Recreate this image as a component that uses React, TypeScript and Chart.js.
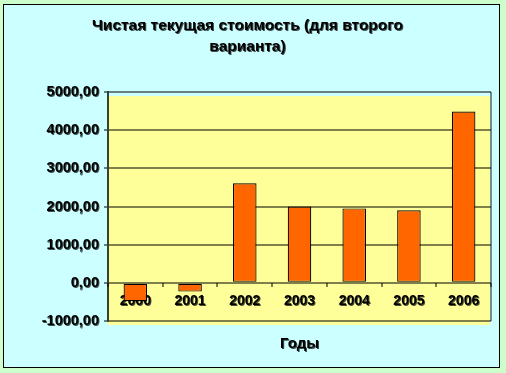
import React, { useEffect, useRef } from "react";
import { Chart, registerables } from "chart.js";

Chart.register(...registerables);

const titleLines = ["Чистая текущая стоимость (для второго", "варианта)"];
const xAxisTitle = "Годы";
const years = ["2000", "2001", "2002", "2003", "2004", "2005", "2006"];
const npvValues = [-480, -230, 2610, 2000, 1950, 1900, 4490];
const yMin = -1000;
const yMax = 5000;
const yStep = 1000;

const FONT = "'Liberation Sans', Arial, sans-serif";

const textShadowPlugin = {
  id: "textShadow",
  beforeInit(chart: any) {
    const ctx = chart.ctx;
    const orig = ctx.fillText.bind(ctx);
    ctx.fillText = function (text: string, x: number, y: number, maxWidth?: number) {
      ctx.save();
      ctx.shadowColor = "rgba(0,0,0,0.7)";
      ctx.shadowOffsetX = 1;
      ctx.shadowOffsetY = 1;
      ctx.shadowBlur = 0;
      if (maxWidth === undefined) orig(text, x, y);
      else orig(text, x, y, maxWidth);
      ctx.restore();
    };
  },
};

const plotBgPlugin = {
  id: "plotBg",
  beforeDraw(chart: any) {
    const { ctx, chartArea } = chart;
    const { left, right, top, bottom } = chartArea;
    ctx.save();
    ctx.fillStyle = "#FFFF99";
    ctx.fillRect(left, top + 4, right - left - 1, bottom - top);
    ctx.strokeStyle = "rgba(0,0,0,0.45)";
    ctx.lineWidth = 2;
    ctx.beginPath();
    ctx.moveTo(right, top);
    ctx.lineTo(right, bottom);
    ctx.stroke();
    ctx.restore();
  },
};

export default function App() {
  const canvasRef = useRef<HTMLCanvasElement>(null);

  useEffect(() => {
    if (!canvasRef.current) return;
    const chart = new Chart(canvasRef.current, {
      type: "bar",
      data: {
        labels: years,
        datasets: [
          {
            data: npvValues,
            backgroundColor: "#FF6600",
            borderColor: "#000000",
            borderWidth: 1.2,
            borderSkipped: false,
            categoryPercentage: 1,
            barPercentage: 0.43,
          },
        ],
      },
      options: {
        responsive: false,
        animation: false,
        layout: { padding: { left: 0, right: 8, top: 0, bottom: 0 } },
        plugins: {
          legend: { display: false },
          tooltip: { enabled: false },
          title: {
            display: true,
            text: titleLines,
            color: "#000",
            font: { family: FONT, size: 15.5, weight: "bold", lineHeight: 21 / 15.5 },
            padding: { top: 10, bottom: 35 },
          },
          subtitle: {
            display: true,
            text: xAxisTitle,
            position: "bottom",
            fullSize: false,
            color: "#000",
            font: { family: FONT, size: 15, weight: "bold", lineHeight: 1.2 },
            padding: { top: 14, bottom: 14 },
          },
        },
        scales: {
          x: {
            position: { y: 0 } as any,
            grid: {
              drawOnChartArea: false,
              drawTicks: true,
              tickLength: 4,
              color: "rgba(0,0,0,0.5)",
              lineWidth: 2,
            },
            border: { display: false },
            ticks: {
              color: "#000",
              padding: 6,
              maxRotation: 0,
              font: { family: FONT, size: 14, weight: "bold" },
            },
          },
          y: {
            min: yMin,
            max: yMax,
            afterFit(scale: any) {
              scale.width = 104;
            },
            grid: {
              color: "rgba(0,0,0,0.5)",
              lineWidth: 2,
              tickLength: 4,
            },
            border: { display: true, color: "rgba(0,0,0,0.75)", width: 2 },
            ticks: {
              stepSize: yStep,
              color: "#000",
              padding: 5,
              font: { family: FONT, size: 14.5, weight: "bold" },
              callback: (v: any) => Number(v).toFixed(2).replace(".", ","),
            },
          },
        },
      },
      plugins: [textShadowPlugin, plotBgPlugin],
    });
    return () => chart.destroy();
  }, []);

  return (
    <div
      style={{
        position: "fixed",
        left: 0,
        top: 0,
        width: 506,
        height: 373,
        background: "#CCFFCC",
      }}
    >
      <div
        style={{
          position: "absolute",
          left: 3,
          top: 4,
          width: 495,
          height: 362,
          border: "1px solid #000",
          background: "#CCFFFF",
        }}
      >
        <canvas ref={canvasRef} width={495} height={362} style={{ display: "block" }} />
      </div>
    </div>
  );
}
